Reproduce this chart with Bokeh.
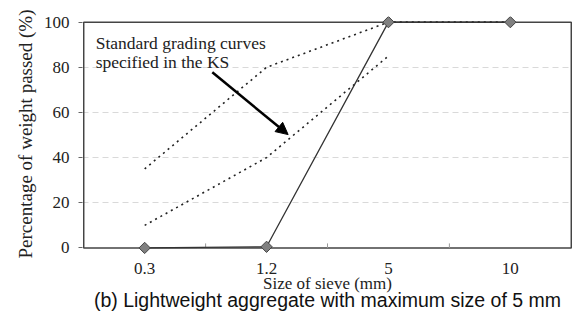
import math
from bokeh.plotting import figure
from bokeh.models import FixedTicker, Range1d, Arrow, NormalHead, Label, Title
from bokeh.core.properties import value
from bokeh.embed import file_html
from bokeh.resources import INLINE

# ---- data ----
sieve_sizes = ["0.3", "1.2", "5", "10"]
measured = [0, 0.5, 100, 100]
ks_upper = [35, 80, 100, 100]
ks_lower = [10, 40, 85]
y_ticks = [0, 20, 40, 60, 80, 100]

n = len(sieve_sizes)
xpos = [i + 0.5 for i in range(n)]
bounds = list(range(1, n))
ymin, ymax = y_ticks[0], y_ticks[-1]

SERIF = "Liberation Serif"
DARK = "#444444"
TXT = "#222222"

# frame runs to the bottom of the figure; the area below 0 holds the x labels and caption
p = figure(width=573, height=312, output_backend="svg", toolbar_location=None,
           x_range=Range1d(-0.01, n + 0.01), y_range=Range1d(-28.6, 102.5),
           min_border_left=82, min_border_right=1, min_border_top=16, min_border_bottom=0)
p.background_fill_color = "white"
p.border_fill_color = "white"
p.outline_line_color = None

# grid
p.xgrid.visible = False
p.ygrid.ticker = FixedTicker(ticks=y_ticks[1:-1])
p.ygrid.grid_line_color = "#d9d9d9"
p.ygrid.grid_line_dash = "6 4"
p.ygrid.grid_line_width = 1

p.xaxis.visible = False

# y axis
p.yaxis.ticker = FixedTicker(ticks=y_ticks)
p.yaxis.major_tick_in = 0
p.yaxis.major_tick_out = 4
p.yaxis.major_tick_line_color = "#666666"
p.yaxis.minor_tick_line_color = None
p.yaxis.axis_line_color = None
p.yaxis.major_label_standoff = 9
p.yaxis.major_label_text_font = SERIF
p.yaxis.major_label_text_font_size = "17px"
p.yaxis.major_label_text_color = TXT

ytitle = Title(text="Percentage of weight passed (%)", text_font=SERIF,
               text_font_size="19px", text_font_style="normal", text_color=TXT,
               align="left", offset=54, standoff=10)
p.add_layout(ytitle, "left")

# plot box spanning the value range, and inner tick marks at category boundaries
p.quad(left=0, right=n, bottom=ymin, top=ymax, fill_color=None,
       line_color=DARK, line_width=1.5)
p.segment(x0=bounds, y0=[ymin] * len(bounds), x1=bounds, y1=[ymin + 2] * len(bounds),
          line_color="#999999", line_width=1)

# x tick labels, x title
p.text(x=xpos, y=[-9.1] * n, text=sieve_sizes, text_font=value(SERIF),
       text_font_size="17px", text_color=TXT, text_align="center", text_baseline="alphabetic")
p.text(x=[n / 2], y=[-15.6], text=["Size of sieve (mm)"], text_font=value(SERIF),
       text_font_size="17px", text_color=TXT, text_align="center", text_baseline="alphabetic")

# KS standard curves (dotted)
p.line(xpos, ks_upper, line_color=TXT, line_width=1.6, line_dash="2 4")
p.line(xpos[:len(ks_lower)], ks_lower, line_color=TXT, line_width=1.6, line_dash="2 4")

# measured grading
p.line(xpos, measured, line_color="#333333", line_width=1.3)
p.scatter(xpos, measured, marker="square", size=8, angle=math.pi / 4,
          fill_color="#808080", line_color=DARK, line_width=1)

# annotation text + arrow
p.add_layout(Label(x=0.098, y=90.7, text="Standard grading curves", text_font=SERIF,
                   text_font_size="17.5px", text_color=TXT, text_baseline="alphabetic"))
p.add_layout(Label(x=0.098, y=82.2, text="specified in the KS", text_font=SERIF,
                   text_font_size="17.5px", text_color=TXT, text_baseline="alphabetic"))
p.add_layout(Arrow(end=NormalHead(size=12, fill_color="black", line_color="black"),
                   x_start=1.055, y_start=77.8, x_end=1.677, y_end=50.2,
                   line_color="black", line_width=2.5))

# caption
p.text(x=[n / 2], y=[-22.9], text=["(b) Lightweight aggregate with maximum size of 5 mm"],
       text_font=value("Liberation Sans"), text_font_size="19.5px", text_color="#111111",
       text_align="center", text_baseline="alphabetic")

open("out.html", "w").write(file_html(p, INLINE))
